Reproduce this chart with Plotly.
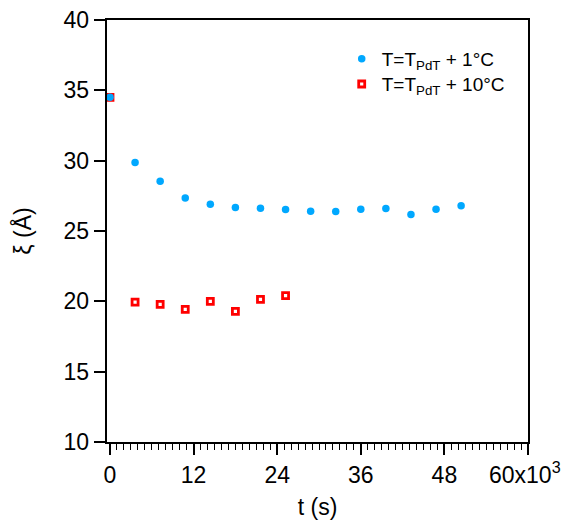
import plotly.graph_objects as go

t_blue = [0, 3600, 7200, 10800, 14400, 18000, 21600, 25200, 28800, 32400, 36000, 39600, 43200, 46800, 50400]
xi_blue = [34.5, 29.87, 28.54, 27.35, 26.9, 26.67, 26.62, 26.53, 26.4, 26.38, 26.55, 26.6, 26.17, 26.55, 26.8]

t_red = [0, 3600, 7200, 10800, 14400, 18000, 21600, 25200]
xi_red = [34.5, 19.95, 19.79, 19.43, 20.0, 19.29, 20.14, 20.40]

x_tickvals = [0, 12000, 24000, 36000, 48000, 60000]
x_ticktext = ["0", "12", "24", "36", "48", "60x10<sup>3</sup>\u00a0"]
y_tickvals = [10, 15, 20, 25, 30, 35, 40]

FONT = "Liberation Sans, Arial, sans-serif"

fig = go.Figure()
fig.add_trace(go.Scatter(
    x=t_red, y=xi_red, mode="markers", name="T=T<sub>PdT</sub> + 10°C",
    marker=dict(symbol="square-open", size=6, color="#FF0000", line=dict(width=2.8, color="#FF0000")),
    legend="legend2", showlegend=True,
))
fig.add_trace(go.Scatter(
    x=t_blue, y=xi_blue, mode="markers", name="T=T<sub>PdT</sub> + 1°C",
    marker=dict(symbol="circle", size=7.5, color="#00A8FF", line=dict(width=0)),
    legend="legend", showlegend=True,
))

# page body has an 8px default margin; figure offset accordingly
fig.update_layout(
    width=556, height=513, showlegend=True,
    margin=dict(l=99, r=35.5, t=12, b=79),
    paper_bgcolor="white", plot_bgcolor="white",
    font=dict(family=FONT, size=23, color="black"),
    legend=dict(x=0.5575, y=0.953, xanchor="left", yanchor="top",
                bgcolor="rgba(0,0,0,0)", font=dict(size=19)),
    legend2=dict(x=0.5575, y=0.893, xanchor="left", yanchor="top",
                 bgcolor="rgba(0,0,0,0)", font=dict(size=19)),
    xaxis=dict(
        range=[-430, 60000], tickvals=x_tickvals, ticktext=x_ticktext,
        ticks="outside", ticklen=11.5, tickwidth=1.5, tickcolor="black",
        showline=True, linewidth=1.5, linecolor="black", mirror=True,
        showgrid=False, zeroline=False, automargin=False, ticklabeloverflow="allow",
        minor=dict(dtick=1000, tick0=0, ticks="outside", ticklen=6, tickwidth=1, tickcolor="black", showgrid=False),
        title=dict(text="t (s)", font=dict(size=23), standoff=12),
        tickfont=dict(size=23),
    ),
    yaxis=dict(
        range=[10, 40], tickvals=y_tickvals,
        ticks="outside", ticklen=11.5, tickwidth=1.5, tickcolor="black",
        showline=True, linewidth=1.5, linecolor="black", mirror=True,
        showgrid=False, zeroline=False, automargin=False, ticklabeloverflow="allow",
        title=dict(text="ξ (Å)", font=dict(size=23), standoff=26),
        tickfont=dict(size=23),
    ),
)

fig.write_html("out.html")
